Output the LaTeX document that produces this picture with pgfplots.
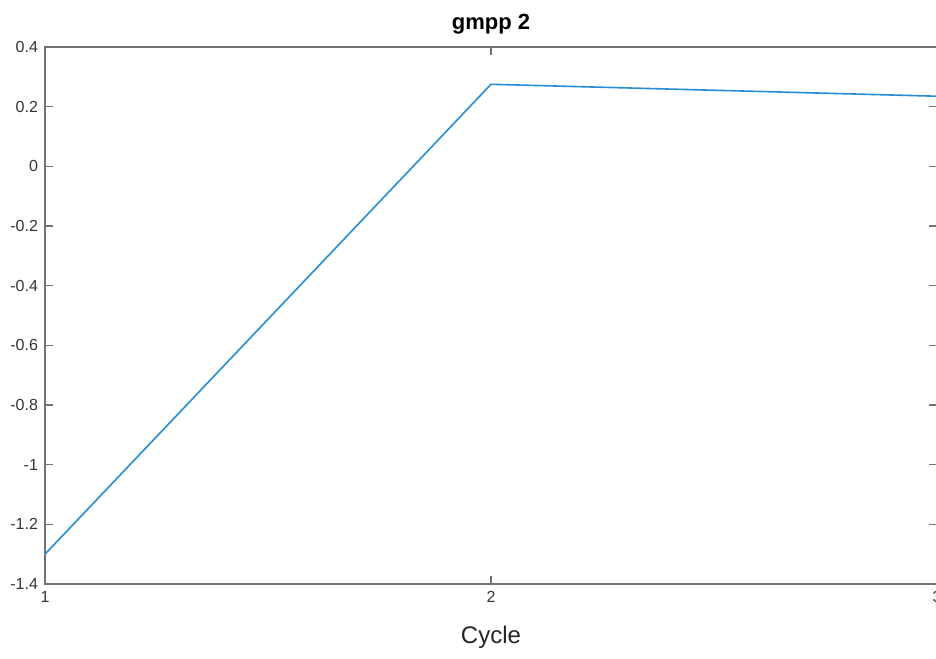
\documentclass[border=0pt]{standalone}
\usepackage{fontspec}
\setmainfont{Liberation Sans}
\usepackage{pgfplots}
\pgfplotsset{compat=1.18}
\definecolor{mblue}{rgb}{0.15,0.55,0.83}
\definecolor{axgray}{gray}{0.45}
\begin{document}
\begin{tikzpicture}
\begin{axis}[
  scale only axis,
  width=446pt, height=268.5pt,
  xmin=1, xmax=3, ymin=-1.4, ymax=0.4,
  xtick={1,2,3}, ytick={-1.4,-1.2,...,0.41},
  yticklabels={-1.4,-1.2,-1,-0.8,-0.6,-0.4,-0.2,0,0.2,0.4},
  xticklabels={1,2,3},
  tick align=inside,
  major tick length=4pt,
  axis line style={axgray, line width=1pt},
  tick style={axgray, line width=0.8pt},
  ticklabel style={font=\fontsize{8}{9}\selectfont, text=black!80},
  /pgf/number format/assume math mode=true,
  xlabel={Cycle},
  xlabel style={font=\fontsize{12}{14}\selectfont, text=black!85, yshift=-5pt},
  title={\textbf{gmpp 2}},
  title style={font=\fontsize{11}{13}\selectfont, yshift=-3pt},
]
\addplot[mblue, line width=0.8pt] coordinates {(1,-1.3) (2,0.275) (3,0.235)};
\end{axis}
\pgfresetboundingbox
\path[use as bounding box] ([xshift=-22.5pt,yshift=-37pt]current axis.south west) rectangle ([xshift=-0.5pt,yshift=23.5pt]current axis.north east);
\end{tikzpicture}
\end{document}
